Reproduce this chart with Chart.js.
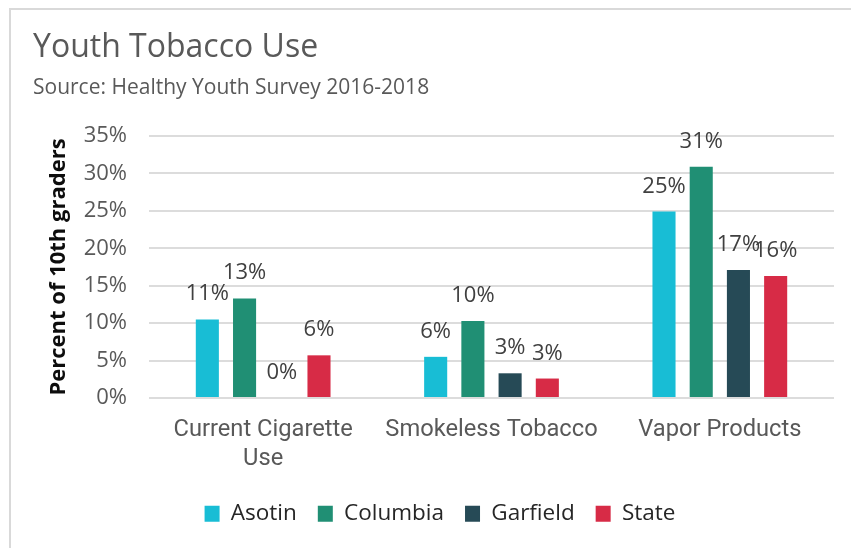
<!DOCTYPE html>
<html>
<head>
<meta charset="utf-8">
<script src="https://cdn.jsdelivr.net/npm/chart.js@4.4.1/dist/chart.umd.min.js"></script>
<style>
  html, body { margin: 0; padding: 0; background: #fff; width: 851px; height: 548px; overflow: hidden; }
  #frame { position: absolute; left: 9px; top: 8px; width: 900px; height: 600px;
           border-top: 2px solid #d9d9d9; border-left: 2px solid #d9d9d9; }
  #title { position: absolute; left: 33px; top: 29px; font: 32px/1 "Open Sans", sans-serif; color: #595959; white-space: nowrap; }
  #sub { position: absolute; left: 33px; top: 76px; font: 21px/1 "Open Sans", sans-serif; color: #595959; white-space: nowrap; }
  #chart { position: absolute; left: 0; top: 0; }
</style>
</head>
<body>
<div id="frame"></div>
<canvas id="chart" width="851" height="548"></canvas>
<div id="title">Youth Tobacco Use</div>
<div id="sub">Source: Healthy Youth Survey 2016-2018</div>
<script>
// data (percent of 10th graders)
var categories = [['Current Cigarette', 'Use'], 'Smokeless Tobacco', 'Vapor Products'];
var asotin   = [10.5, 5.5, 24.9];
var columbia = [13.3, 10.3, 30.9];
var garfield = [0, 3.3, 17.1];
var state    = [5.7, 2.6, 16.3];
var yTicks   = [0, 5, 10, 15, 20, 25, 30, 35];

var legendCenterX = 440;

// value labels above each bar
var barLabels = {
  id: 'barLabels',
  afterDatasetsDraw: function(chart) {
    var ctx = chart.ctx;
    ctx.save();
    ctx.font = '22px "Open Sans"';
    ctx.fillStyle = '#404040';
    ctx.textAlign = 'center';
    ctx.textBaseline = 'alphabetic';
    chart.data.datasets.forEach(function(ds, i) {
      chart.getDatasetMeta(i).data.forEach(function(bar, j) {
        ctx.fillText(Math.round(ds.data[j]) + '%', bar.x, bar.y - 19);
      });
    });
    ctx.restore();
  }
};

// legend sits off centre in the reference
var legendShift = {
  id: 'legendShift',
  afterLayout: function(chart) {
    var lg = chart.legend;
    var dx = legendCenterX - (lg.left + lg.right) / 2;
    lg.left += dx;
    lg.right += dx;
  }
};

var ctx = document.getElementById('chart');
new Chart(ctx, {
  type: 'bar',
  data: {
    labels: categories,
    datasets: [
      { label: 'Asotin',   data: asotin,   backgroundColor: '#18BDD5' },
      { label: 'Columbia', data: columbia, backgroundColor: '#208F74' },
      { label: 'Garfield', data: garfield, backgroundColor: '#264A56' },
      { label: 'State',    data: state,    backgroundColor: '#D72B46' }
    ]
  },
  options: {
    responsive: false,
    animation: false,
    devicePixelRatio: 1,
    layout: { padding: { top: 136, right: 17, bottom: 13, left: 0 } },
    datasets: { bar: { categoryPercentage: 0.652, barPercentage: 0.62 } },
    plugins: {
      tooltip: { enabled: false },
      legend: {
        position: 'bottom',
        labels: {
          boxWidth: 15,
          boxHeight: 16,
          padding: 21,
          color: '#262626',
          font: { family: 'Open Sans', size: 22.5 }
        }
      }
    },
    scales: {
      x: {
        grid: { display: false },
        border: { display: false },
        ticks: {
          color: '#595959',
          padding: 10,
          maxRotation: 0,
          font: { family: 'Roboto', size: 23.7, lineHeight: 1.2 }
        },
        afterFit: function(s) { s.height = 83.5; }
      },
      y: {
        min: 0,
        max: 35,
        afterBuildTicks: function(s) { s.ticks = yTicks.map(function(v) { return { value: v }; }); },
        grid: { color: '#dcdcdc', lineWidth: 2, drawTicks: false },
        border: { display: false },
        ticks: {
          color: '#595959',
          padding: 22,
          font: { family: 'Open Sans', size: 22 },
          callback: function(v) { return v + '%'; }
        },
        title: {
          display: true,
          text: 'Percent of 10th graders',
          color: '#0d0d0d',
          padding: { top: 46, bottom: 0 },
          font: { family: 'Open Sans', size: 22, weight: 'bold' }
        },
        afterFit: function(s) { s.width = 149; }
      }
    }
  },
  plugins: [barLabels, legendShift]
});
</script>
</body>
</html>
